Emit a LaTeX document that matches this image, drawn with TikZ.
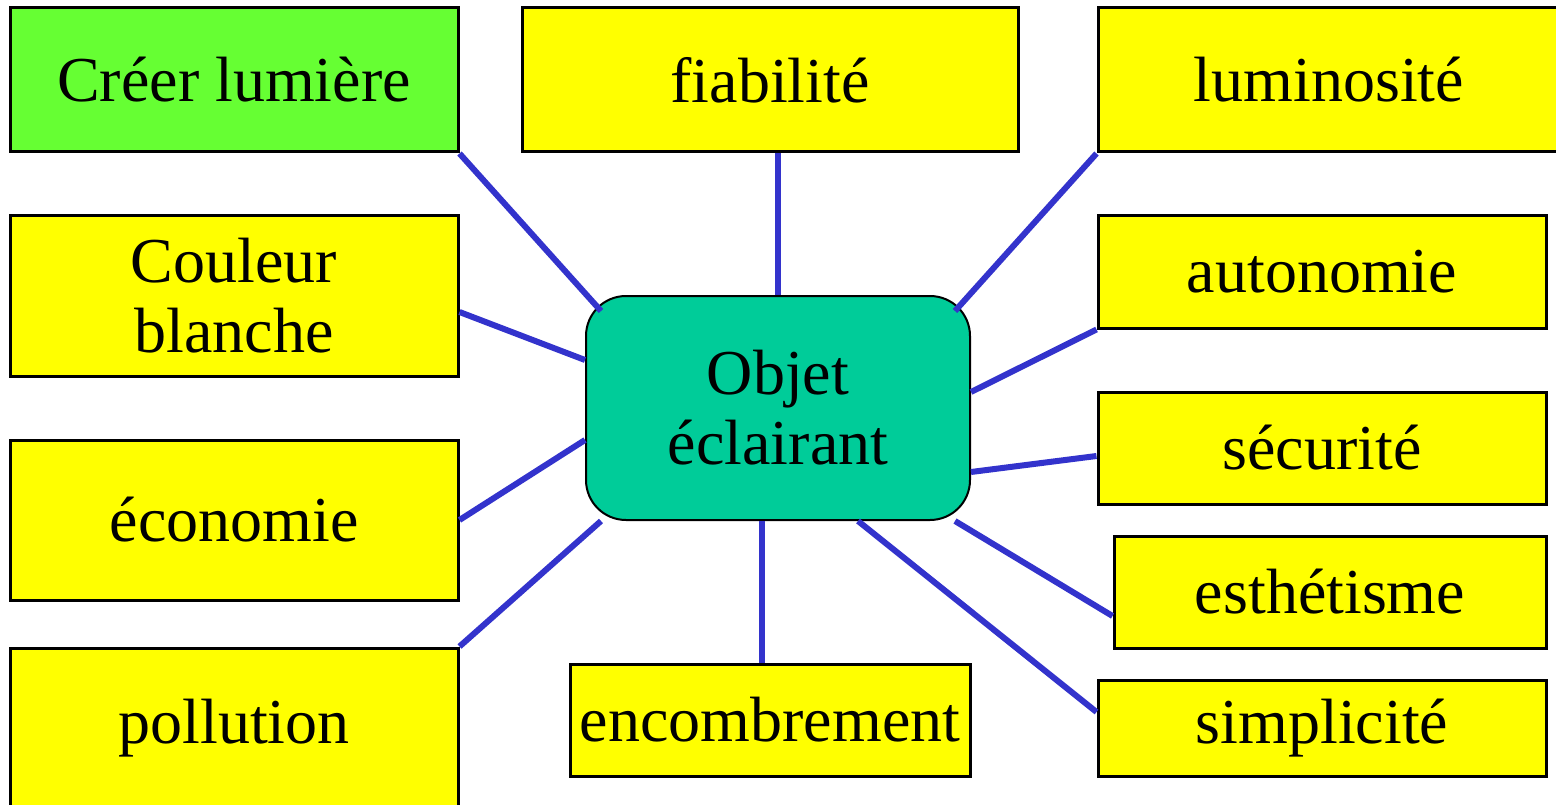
\documentclass[tikz,border=0pt]{standalone}
\usepackage{fontspec}
\setmainfont{Liberation Serif}
\usetikzlibrary{calc}

\definecolor{boxyellow}{HTML}{FFFF00}
\definecolor{boxgreen}{HTML}{66FF33}
\definecolor{objteal}{HTML}{00CC99}
\definecolor{linkblue}{HTML}{3333CC}

\begin{document}
\begin{tikzpicture}[x=1pt, y=-1pt,
    critere/.style={draw, line width=3pt, fill=boxyellow, inner sep=0pt,
      align=center, font=\fontsize{64}{70}\selectfont},
    link/.style={draw=linkblue, line width=6pt}]
        \useasboundingbox (0,0) rectangle (1556,805);

        % central object
        \node [draw, line width=2pt, fill=objteal, rounded corners=40pt,
          minimum width=384pt, minimum height=224pt, align=center,
          font=\fontsize{64}{70}\selectfont] (obj) at (778,408)
          {Objet\\éclairant};

        % left column
        \node [critere, fill=boxgreen, minimum width=448pt, minimum height=144pt]
          (creer) at (234,80) {Créer lumière};
        \node [critere, minimum width=448pt, minimum height=160pt]
          (couleur) at (234,296) {Couleur\\blanche};
        \node [critere, minimum width=448pt, minimum height=160pt]
          (eco) at (234,520) {économie};
        \node [critere, minimum width=448pt, minimum height=160pt]
          (poll) at (234,728) {pollution};

        % top and bottom
        \node [critere, minimum width=496pt, minimum height=144pt]
          (fiab) at (770,80) {fiabilité};
        \node [critere, minimum width=400pt, minimum height=112pt]
          (enc) at (770,720) {encombrement};

        % right column
        \node [critere, minimum width=462pt, minimum height=144pt]
          (lumi) at (1329,80) {luminosité};
        \node [critere, minimum width=448pt, minimum height=112pt]
          (auto) at (1322,272) {autonomie};
        \node [critere, minimum width=448pt, minimum height=112pt]
          (secu) at (1322,448) {sécurité};
        \node [critere, minimum width=432pt, minimum height=112pt]
          (esth) at (1330,592) {esthétisme};
        \node [critere, minimum width=448pt, minimum height=96pt]
          (simp) at (1322,728) {simplicité};

        % links to the object
        \draw [link] (creer.south east) -- ($(obj.north west)+(16,16)$);
        \draw [link] ($(couleur.east)+(0,16)$) -- ($(obj.west)+(0,-48)$);
        \draw [link] (eco.east) -- ($(obj.west)+(0,32)$);
        \draw [link] (poll.north east) -- ($(obj.south west)+(16,0)$);

        \draw [link] (obj.north) -- (obj.north |- fiab.south);
        \coordinate (encend) at ($(obj.south)+(-16,0)$);
        \draw [link] (encend) -- (encend |- enc.north);

        \draw [link] (lumi.south west) -- ($(obj.north east)+(-16,16)$);
        \draw [link] (auto.south west) -- ($(obj.east)+(0,-16)$);
        \draw [link] ($(secu.west)+(0,8)$) -- ($(obj.east)+(0,64)$);
        \draw [link] ($(esth.west)+(0,24)$) -- ($(obj.south east)+(-16,0)$);
        \draw [link] ($(simp.west)+(0,-16)$) -- ($(obj.south)+(80,0)$);
      \end{tikzpicture}
\end{document}
